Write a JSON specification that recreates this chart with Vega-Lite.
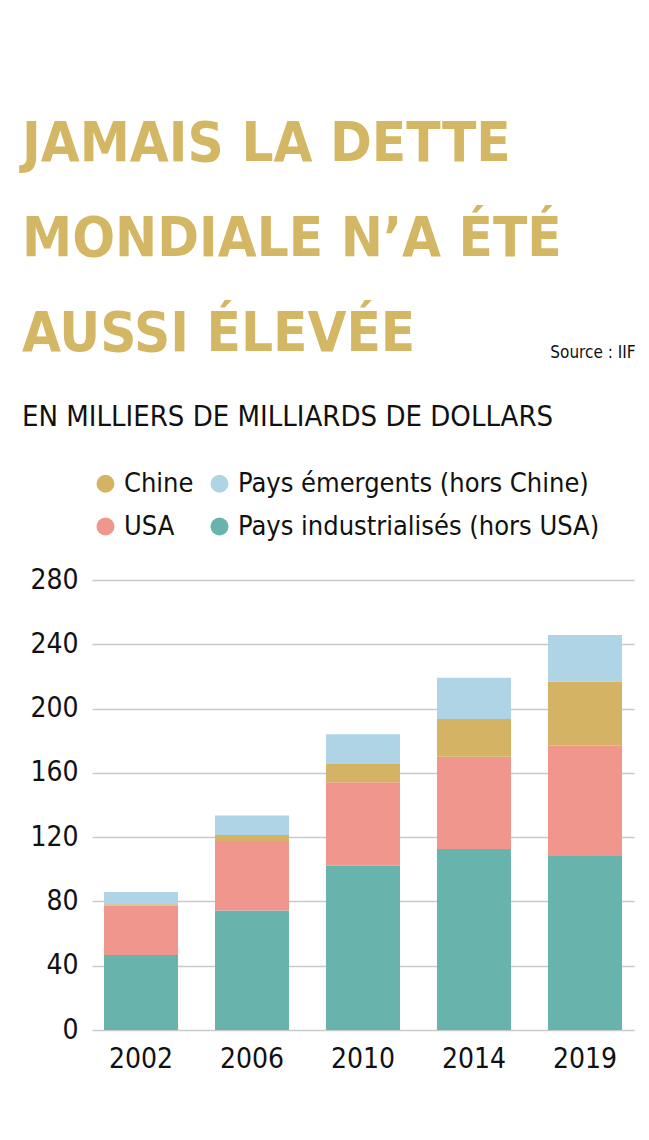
{
  "$schema": "https://vega.github.io/schema/vega-lite/v6.json",
  "width": 542,
  "height": 450,
  "autosize": "none",
  "padding": {"left": 92, "top": 580, "right": 15, "bottom": 110},
  "background": "white",
  "title": {
    "text": ["JAMAIS LA DETTE", "MONDIALE N’A ÉTÉ", "AUSSI ÉLEVÉE"],
    "subtitle": "EN MILLIERS DE MILLIARDS DE DOLLARS",
    "anchor": "start",
    "frame": "group",
    "dx": -70,
    "offset": -90,
    "font": "DejaVu Sans Condensed",
    "fontWeight": "bold",
    "fontSize": 56,
    "lineHeight": 95,
    "color": "#d4b765",
    "subtitleFont": "DejaVu Sans Condensed",
    "subtitleFontSize": 29,
    "subtitleColor": "#111111",
    "subtitlePadding": 40
  },
  "data": {
    "values": [
      {"annee": "2002", "serie": "Pays industrialisés (hors USA)", "k": 1, "valeur": 46.7},
      {"annee": "2002", "serie": "USA", "k": 2, "valeur": 30.7},
      {"annee": "2002", "serie": "Chine", "k": 3, "valeur": 0.8},
      {"annee": "2002", "serie": "Pays émergents (hors Chine)", "k": 4, "valeur": 7.7},
      {"annee": "2006", "serie": "Pays industrialisés (hors USA)", "k": 1, "valeur": 74.3},
      {"annee": "2006", "serie": "USA", "k": 2, "valeur": 43.3},
      {"annee": "2006", "serie": "Chine", "k": 3, "valeur": 3.7},
      {"annee": "2006", "serie": "Pays émergents (hors Chine)", "k": 4, "valeur": 12.1},
      {"annee": "2010", "serie": "Pays industrialisés (hors USA)", "k": 1, "valeur": 102.3},
      {"annee": "2010", "serie": "USA", "k": 2, "valeur": 51.8},
      {"annee": "2010", "serie": "Chine", "k": 3, "valeur": 11.4},
      {"annee": "2010", "serie": "Pays émergents (hors Chine)", "k": 4, "valeur": 18.5},
      {"annee": "2014", "serie": "Pays industrialisés (hors USA)", "k": 1, "valeur": 112.6},
      {"annee": "2014", "serie": "USA", "k": 2, "valeur": 57.5},
      {"annee": "2014", "serie": "Chine", "k": 3, "valeur": 23.4},
      {"annee": "2014", "serie": "Pays émergents (hors Chine)", "k": 4, "valeur": 25.7},
      {"annee": "2019", "serie": "Pays industrialisés (hors USA)", "k": 1, "valeur": 108.3},
      {"annee": "2019", "serie": "USA", "k": 2, "valeur": 68.6},
      {"annee": "2019", "serie": "Chine", "k": 3, "valeur": 39.9},
      {"annee": "2019", "serie": "Pays émergents (hors Chine)", "k": 4, "valeur": 29.0}
    ]
  },
  "mark": {"type": "bar"},
  "encoding": {
    "x": {
      "field": "annee",
      "type": "ordinal",
      "scale": {"paddingInner": 0.333, "paddingOuter": 0.108},
      "axis": {
        "title": null,
        "domain": false,
        "ticks": false,
        "labelAngle": 0,
        "labelFont": "DejaVu Sans Condensed",
        "labelFontSize": 28,
        "labelColor": "#111111",
        "labelPadding": 15
      }
    },
    "y": {
      "field": "valeur",
      "type": "quantitative",
      "stack": "zero",
      "scale": {"domain": [0, 280], "nice": false},
      "axis": {
        "values": [0, 40, 80, 120, 160, 200, 240, 280],
        "domain": false,
        "ticks": false,
        "grid": true,
        "gridColor": "#c9c9c9",
        "gridWidth": 1.5,
        "labelFont": "DejaVu Sans Condensed",
        "labelFontSize": 28,
        "labelColor": "#111111",
        "labelPadding": 14,
        "title": "Source : IIF",
        "titleAngle": 0,
        "titleX": 543,
        "titleY": -228,
        "titleAlign": "right",
        "titleBaseline": "middle",
        "titleFont": "DejaVu Sans Condensed",
        "titleFontSize": 17,
        "titleFontWeight": "normal",
        "titleColor": "#111111"
      }
    },
    "color": {
      "field": "serie",
      "type": "nominal",
      "scale": {
        "domain": ["Chine", "Pays émergents (hors Chine)", "USA", "Pays industrialisés (hors USA)"],
        "range": ["#d4b464", "#aed4e6", "#f0968c", "#68b3ac"]
      },
      "legend": {
        "title": null,
        "orient": "none",
        "legendX": 0,
        "legendY": -110,
        "direction": "horizontal",
        "columns": 2,
        "symbolType": "circle",
        "symbolSize": 324,
        "symbolStrokeWidth": 0,
        "labelFont": "DejaVu Sans Condensed",
        "labelFontSize": 27,
        "labelColor": "#111111",
        "labelOffset": 5,
        "labelLimit": 500,
        "columnPadding": 12,
        "rowPadding": 15
      }
    },
    "order": {"field": "k", "type": "quantitative"}
  },
  "config": {
    "view": {"stroke": null}
  }
}
